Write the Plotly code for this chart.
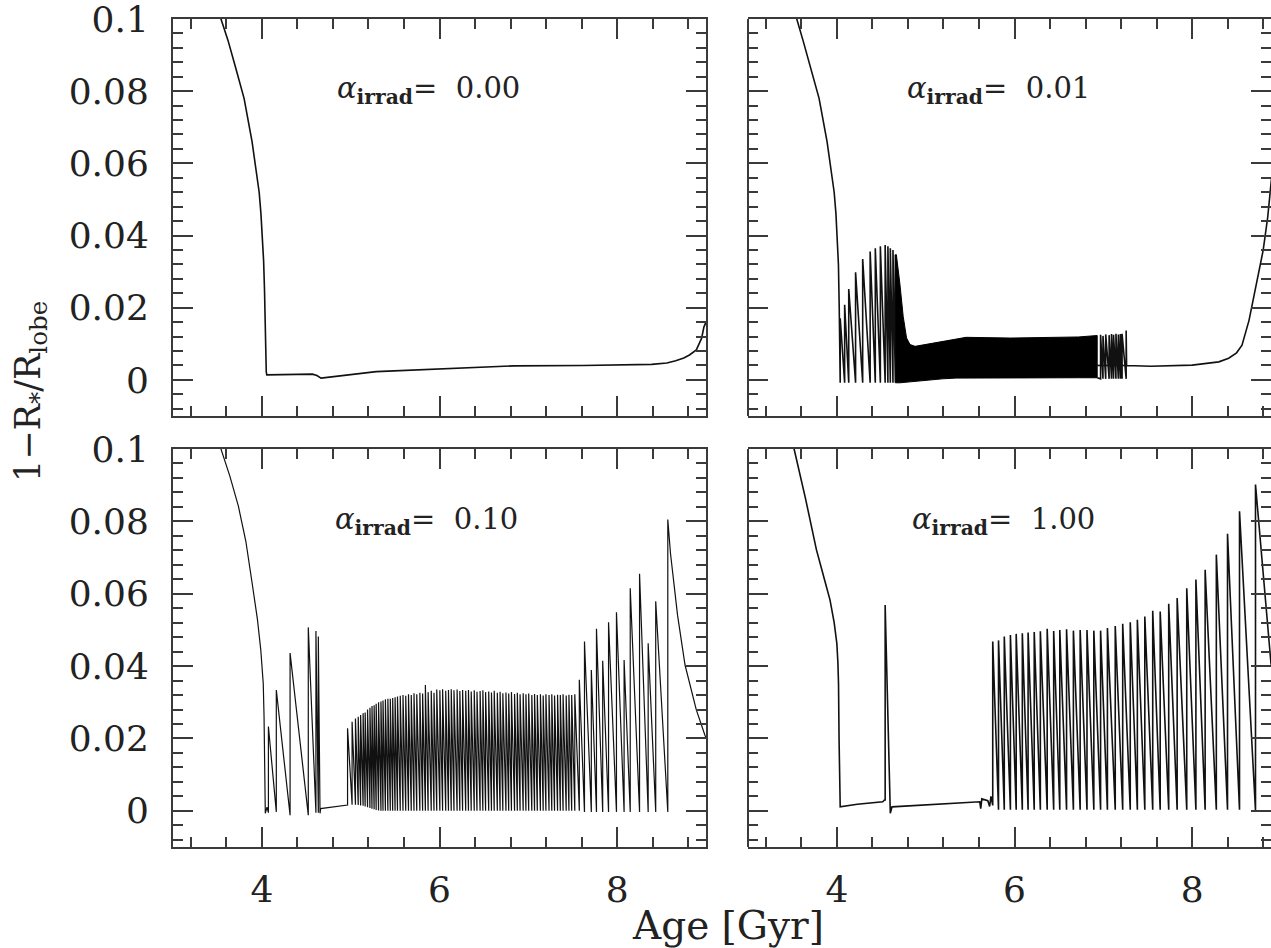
import plotly.graph_objects as go

# ---------------- data ----------------
# Panel 1: alpha_irrad = 0.00
p1_x = [3.50, 3.543, 3.620, 3.700, 3.800, 3.890, 3.940, 3.970, 3.990, 4.005, 4.020, 4.030,
        4.037, 4.043, 4.050, 4.056, 4.434, 4.570, 4.620, 4.667, 5.287, 6.062, 6.837,
        7.612, 8.388, 8.560, 8.659, 8.750, 8.814, 8.891, 8.950, 8.977, 9.0]
p1_y = [0.103, 0.0998, 0.0940, 0.0870, 0.0780, 0.0660, 0.0580, 0.0520, 0.0460, 0.0400, 0.0330, 0.0250,
        0.0150, 0.0060, 0.0022, 0.0014, 0.0016, 0.0016, 0.0012, 0.0005, 0.0023, 0.0032, 0.0039,
        0.0040, 0.0043, 0.0047, 0.0053, 0.0061, 0.0069, 0.0083, 0.0115, 0.0147, 0.016]

# Panel 2: alpha_irrad = 0.01
p2_pre_x = [3.50, 3.549, 3.620, 3.700, 3.800, 3.890, 3.940, 3.970, 3.990, 4.005, 4.018, 4.027]
p2_pre_y = [0.103, 0.100, 0.0940, 0.0870, 0.0780, 0.0660, 0.0580, 0.0520, 0.0460, 0.0400, 0.0320, 0.0200]
p2_spk_x = [4.038, 4.088, 4.134, 4.211, 4.291, 4.375, 4.433, 4.490, 4.544, 4.575, 4.602, 4.632, 4.659]
p2_spk_top = [0.0171, 0.0208, 0.0252, 0.0298, 0.0335, 0.0356, 0.0365, 0.0370, 0.0374, 0.0370, 0.0365, 0.0360, 0.0347]
p2_spk_base = [-0.0008, -0.0008, -0.0008, -0.0008, -0.0008, -0.0008, -0.0008, -0.0008, -0.0008, -0.0008, -0.0008, -0.0008, -0.0008]
p2_band_x = [4.659, 4.670, 4.709, 4.747, 4.785, 4.824, 4.881, 5.034, 5.188, 5.341, 5.456, 5.954, 6.720, 6.931]
p2_band_hi = [0.0347, 0.0347, 0.0268, 0.0176, 0.0116, 0.0098, 0.0093, 0.0100, 0.0107, 0.0112, 0.0118, 0.0116, 0.0119, 0.0123]
p2_band_lo = [-0.0008, -0.0008, -0.0008, -0.0007, -0.0006, -0.0005, -0.0004, -0.0001, 0.0003, 0.0005, 0.0006, 0.0006, 0.0006, 0.0006]
p2_sp2_x = [6.969, 6.996, 7.027, 7.065, 7.092, 7.115, 7.142, 7.169, 7.192, 7.211, 7.257]
p2_sp2_top = [0.0125, 0.0122, 0.0126, 0.0124, 0.0127, 0.0125, 0.0128, 0.0126, 0.0127, 0.0128, 0.0137]
p2_sp2_base = [0.0003, 0.0003, 0.0003, 0.0003, 0.0003, 0.0003, 0.0003, 0.0003, 0.0003, 0.0003, 0.0003]
p2_tail_x = [7.262, 7.533, 8.000, 8.300, 8.411, 8.500, 8.561, 8.640, 8.750, 8.800, 8.850, 8.890, 9.0]
p2_tail_y = [0.0040, 0.0038, 0.0041, 0.0050, 0.0060, 0.0075, 0.0096, 0.0165, 0.0300, 0.0360, 0.0450, 0.0550, 0.078]

# Panel 3: alpha_irrad = 0.10
p3_pre_x = [3.50, 3.543, 3.640, 3.736, 3.820, 3.891, 3.950, 3.988, 4.005, 4.016, 4.025, 4.031, 4.036, 4.039, 4.058]
p3_pre_y = [0.103, 0.0998, 0.0925, 0.0842, 0.0745, 0.0629, 0.0530, 0.0445, 0.0400, 0.0352, 0.0260, 0.0168, 0.0060, -0.0007, 0.0010]
p3_a_x = [4.074, 4.163, 4.318, 4.523, 4.609, 4.636]
p3_a_top = [0.0233, 0.0334, 0.0436, 0.0507, 0.0497, 0.0482]
p3_a_base = [-0.0005, -0.0003, -0.0012, -0.0012, -0.0005, -0.0005]
p3_gap_x = [4.655, 4.662, 4.965]
p3_gap_y = [-0.0007, 0.0006, 0.0016]
p3_b_x = [4.965, 5.016, 5.054, 5.085, 5.112, 5.140, 5.163, 5.190, 5.217, 5.240,
          5.264, 5.287, 5.314, 5.341, 5.364, 5.391, 5.419, 5.446, 5.473, 5.500,
          5.527, 5.558, 5.589, 5.620, 5.651, 5.682, 5.713, 5.744, 5.779, 5.810,
          5.841, 5.872, 5.907, 5.938, 5.969, 6.004, 6.035, 6.070, 6.101, 6.132,
          6.163, 6.198, 6.229, 6.260, 6.295, 6.326, 6.357, 6.391, 6.422, 6.457,
          6.488, 6.519, 6.554, 6.585, 6.616, 6.651, 6.682, 6.713, 6.748, 6.779,
          6.810, 6.845, 6.876, 6.907, 6.942, 6.973, 7.004, 7.039, 7.070, 7.101,
          7.136, 7.167, 7.198, 7.233, 7.264, 7.295, 7.329, 7.360, 7.391, 7.426,
          7.457, 7.488, 7.523]
p3_b_top = [0.0228, 0.0246, 0.0255, 0.0260, 0.0265, 0.0270, 0.0272, 0.0280, 0.0285, 0.0290,
            0.0292, 0.0296, 0.0300, 0.0302, 0.0305, 0.0308, 0.0310, 0.0310, 0.0312, 0.0314,
            0.0316, 0.0318, 0.0320, 0.0318, 0.0322, 0.0320, 0.0325, 0.0322, 0.0326, 0.0324,
            0.0348, 0.0328, 0.0332, 0.0326, 0.0335, 0.0333, 0.0336, 0.0332, 0.0334, 0.0336,
            0.0333, 0.0335, 0.0331, 0.0334, 0.0332, 0.0334, 0.0330, 0.0333, 0.0329, 0.0331,
            0.0333, 0.0328, 0.0330, 0.0327, 0.0332, 0.0326, 0.0329, 0.0325, 0.0327, 0.0324,
            0.0328, 0.0323, 0.0326, 0.0322, 0.0325, 0.0322, 0.0324, 0.0320, 0.0323, 0.0320,
            0.0322, 0.0319, 0.0322, 0.0320, 0.0322, 0.0319, 0.0321, 0.0320, 0.0322, 0.0319,
            0.0321, 0.0320, 0.0322]
p3_b_base = [0.0016, 0.0017, 0.0017, 0.0016, 0.0015, 0.0014, 0.0012, 0.0010, 0.0008, 0.0006,
             0.0004, 0.0002, 0.0001, 0.0, 0.0, 0.0, 0.0, 0.0, 0.0, 0.0,
             0.0, 0.0, 0.0, 0.0, 0.0, 0.0, 0.0, 0.0, 0.0, 0.0,
             0.0, 0.0, 0.0, 0.0, 0.0, 0.0, 0.0, 0.0, 0.0, 0.0,
             0.0, 0.0, 0.0, 0.0, 0.0, 0.0, 0.0, 0.0, 0.0, 0.0,
             0.0, 0.0, 0.0, 0.0, 0.0, 0.0, 0.0, 0.0, 0.0, 0.0,
             0.0, 0.0, 0.0, 0.0, 0.0, 0.0, 0.0, 0.0, 0.0, 0.0,
             0.0, 0.0, 0.0, 0.0, 0.0, 0.0, 0.0, 0.0, 0.0, 0.0,
             0.0, 0.0, 0.0]
p3_c_x = [7.574, 7.632, 7.709, 7.767, 7.837, 7.903, 7.992, 8.078, 8.147, 8.252, 8.349, 8.434, 8.570]
p3_c_top = [0.0362, 0.0468, 0.0389, 0.0503, 0.0415, 0.0521, 0.0549, 0.0417, 0.0615, 0.0655, 0.0463, 0.0579, 0.0805]
p3_c_base = [0.0, -0.0003, -0.0003, -0.0003, -0.0003, -0.0003, -0.0003, -0.0003, -0.0003, -0.0003, -0.0003, -0.0003, -0.0003]
p3_tail_x = [8.600, 8.680, 8.764, 8.891, 8.988, 9.0]
p3_tail_y = [0.0712, 0.0540, 0.0403, 0.0279, 0.0209, 0.0203]

# Panel 4: alpha_irrad = 1.00
p4_pre_x = [3.48, 3.521, 3.650, 3.770, 3.860, 3.923, 3.970, 4.000, 4.012, 4.019, 4.025, 4.031,
            4.038, 4.230, 4.517, 4.536]
p4_pre_y = [0.103, 0.0998, 0.0860, 0.0722, 0.0640, 0.0583, 0.0520, 0.0463, 0.0410, 0.0352, 0.0200, 0.0011,
            0.0011, 0.0018, 0.0025, 0.0030]
p4_a_x = [4.544]
p4_a_top = [0.0569]
p4_a_base = [0.0030]
p4_mid_x = [4.602, 4.621, 5.188, 5.609, 5.620, 5.632, 5.700, 5.720, 5.735]
p4_mid_y = [-0.0007, 0.0011, 0.0018, 0.0025, 0.0006, 0.0033, 0.0028, 0.0012, 0.0040]
p4_b_x = [5.755, 5.820, 5.885, 5.954, 6.019, 6.088, 6.153, 6.222, 6.291, 6.368,
          6.441, 6.510, 6.586, 6.663, 6.739, 6.816, 6.893, 6.969, 7.046, 7.134,
          7.218, 7.303, 7.383, 7.467, 7.556, 7.640, 7.736, 7.831, 7.939, 8.042,
          8.146, 8.272, 8.398, 8.533, 8.713]
p4_b_top = [0.0468, 0.0471, 0.0482, 0.0486, 0.0489, 0.0491, 0.0493, 0.0494, 0.0496, 0.0503,
            0.0497, 0.0500, 0.0502, 0.0498, 0.0500, 0.0500, 0.0498, 0.0498, 0.0505, 0.0511,
            0.0517, 0.0521, 0.0528, 0.0537, 0.0553, 0.0551, 0.0572, 0.0588, 0.0615, 0.0639,
            0.0666, 0.0708, 0.0766, 0.0828, 0.0902]
p4_b_base = [0.0015, 0.0003, 0.0003, 0.0003, 0.0003, 0.0003, 0.0003, 0.0003, 0.0003, 0.0003,
             0.0003, 0.0003, 0.0003, 0.0003, 0.0003, 0.0003, 0.0003, 0.0003, 0.0003, 0.0003,
             0.0003, 0.0003, 0.0003, 0.0003, 0.0003, 0.0003, 0.0003, 0.0003, 0.0003, 0.0003,
             0.0003, 0.0003, 0.0003, 0.0003, 0.0]
p4_tail_x = [8.887, 9.0]
p4_tail_y = [0.0408, 0.0270]

labels = ["0.00", "0.01", "0.10", "1.00"]

# ---------------- helpers ----------------
def saw(xs, tops, bases):
    X, Y = [], []
    for x, t, b in zip(xs, tops, bases):
        X += [x, x]
        Y += [b, t]
    return X, Y

def chain(*parts):
    X, Y = [], []
    for px, py in parts:
        X += list(px)
        Y += list(py)
    return X, Y

LINE = dict(color="#111111", width=1.6)
FRAME = "#3a3a3a"
FONT = "DejaVu Serif"

fig = go.Figure()

# panel 1
fig.add_trace(go.Scatter(x=p1_x, y=p1_y, mode="lines", line=LINE, xaxis="x", yaxis="y"))

# panel 2
X2, Y2 = chain((p2_pre_x, p2_pre_y), saw(p2_spk_x, p2_spk_top, p2_spk_base))
fig.add_trace(go.Scatter(x=X2, y=Y2, mode="lines", line=LINE, xaxis="x2", yaxis="y2"))
fig.add_trace(go.Scatter(x=p2_band_x + p2_band_x[::-1], y=p2_band_hi + p2_band_lo[::-1],
                         mode="lines", fill="toself", fillcolor="#000000",
                         line=dict(color="#000000", width=1), xaxis="x2", yaxis="y2"))
X2b, Y2b = chain(([p2_band_x[-1]], [p2_band_lo[-1]]),
                 saw(p2_sp2_x, p2_sp2_top, p2_sp2_base), (p2_tail_x, p2_tail_y))
fig.add_trace(go.Scatter(x=X2b, y=Y2b, mode="lines", line=LINE, xaxis="x2", yaxis="y2"))
fig.add_trace(go.Scatter(x=[p2_band_x[-1], p2_sp2_x[-1]], y=[0.0040, 0.0040], mode="lines",
                         line=LINE, xaxis="x2", yaxis="y2"))

# panel 3
X3, Y3 = chain((p3_pre_x, p3_pre_y), saw(p3_a_x, p3_a_top, p3_a_base), (p3_gap_x, p3_gap_y),
               saw(p3_b_x, p3_b_top, p3_b_base), saw(p3_c_x, p3_c_top, p3_c_base),
               (p3_tail_x, p3_tail_y))
fig.add_trace(go.Scatter(x=X3, y=Y3, mode="lines", line=dict(color="#111111", width=1.2),
                         xaxis="x3", yaxis="y3"))

# panel 4
X4, Y4 = chain((p4_pre_x, p4_pre_y), saw(p4_a_x, p4_a_top, p4_a_base), (p4_mid_x, p4_mid_y),
               saw(p4_b_x, p4_b_top, p4_b_base), (p4_tail_x, p4_tail_y))
fig.add_trace(go.Scatter(x=X4, y=Y4, mode="lines", line=LINE, xaxis="x4", yaxis="y4"))

# ---------------- layout ----------------
W, H = 1271, 948
ML, MR, MT, MB = 173, 0, 19, 101
pw, ph = W - ML - MR, H - MT - MB
left_dom = [0, (706 - ML) / pw]
right_dom = [(748 - ML) / pw, 1]
top_dom = [(H - MB - 416) / ph, 1]
bot_dom = [0, (H - MB - 449) / ph]
px_per_gyr = (706 - 173) / 6.0
right_end = 3 + (W - 748) / px_per_gyr

tickfont = dict(family=FONT, size=36, color="#222222")
minor_x = dict(ticks="inside", ticklen=10, tickwidth=2, tickcolor=FRAME, tick0=0, dtick=0.4)
minor_y = dict(ticks="inside", ticklen=10, tickwidth=2, tickcolor=FRAME, tick0=0, dtick=0.004)

def xax(dom, anchor, rng, labels_on):
    return dict(domain=dom, anchor=anchor, range=rng, tickmode="linear", tick0=0, dtick=2,
                ticks="inside", ticklen=20, tickwidth=2, tickcolor=FRAME,
                showline=True, linecolor=FRAME, linewidth=2, mirror="ticks",
                showgrid=False, zeroline=False, showticklabels=labels_on,
                tickfont=tickfont, ticklabelstandoff=10, ticklabeloverflow="allow",
                minor=minor_x, fixedrange=True)

def yax(dom, anchor, labels_on, line_on):
    return dict(domain=dom, anchor=anchor, range=[-0.01, 0.1000001], tickmode="linear", tick0=0,
                dtick=0.02, ticks="inside", ticklen=20, tickwidth=2, tickcolor=FRAME,
                showline=line_on, linecolor=FRAME, linewidth=2, mirror="ticks",
                showgrid=False, zeroline=False, showticklabels=labels_on,
                tickfont=tickfont, ticklabelstandoff=15, ticklabeloverflow="allow",
                minor=minor_y, fixedrange=True)

fig.update_layout(
    width=W, height=H, margin=dict(l=ML, r=MR, t=MT, b=MB),
    paper_bgcolor="white", plot_bgcolor="white", showlegend=False,
    xaxis=xax(left_dom, "y", [3, 9], False),
    yaxis=yax(top_dom, "x", True, True),
    xaxis2=xax(right_dom, "y2", [3, right_end], False),
    yaxis2=yax(top_dom, "x2", False, False),
    xaxis3=xax(left_dom, "y3", [3, 9], True),
    yaxis3=yax(bot_dom, "x3", True, True),
    xaxis4=xax(right_dom, "y4", [3, right_end], True),
    yaxis4=yax(bot_dom, "x4", False, False),
)

# left frame line of the right-hand panels (their right edge lies outside the picture)
for xr, yr in [("x2", "y2"), ("x4", "y4")]:
    fig.add_shape(type="line", xref=f"{xr} domain", yref=f"{yr} domain", x0=0, x1=0, y0=0, y1=1,
                  line=dict(color=FRAME, width=2))

ann_pos = [("x", "y", 0.304), ("x2", "y2", 0.300), ("x3", "y3", 0.300), ("x4", "y4", 0.310)]
for (xr, yr, xf), lab in zip(ann_pos, labels):
    fig.add_annotation(xref=f"{xr} domain", yref=f"{yr} domain", x=xf, y=0.82,
                       xanchor="left", yanchor="middle", showarrow=False,
                       text=f"<i>α</i><sub><b>irrad</b></sub>=&nbsp; {lab}",
                       font=dict(family=FONT, size=29, color="#222222"))

fig.add_annotation(xref="paper", yref="paper", x=(30 - ML) / pw, y=(H - MB - 392) / ph,
                   textangle=-90, showarrow=False, xanchor="center", yanchor="middle",
                   text="1−R<sub>*</sub>/R<sub>lobe</sub>",
                   font=dict(family=FONT, size=35, color="#222222"))
fig.add_annotation(xref="paper", yref="paper", x=(728 - ML) / pw, y=(H - MB - 925) / ph,
                   showarrow=False, xanchor="center", yanchor="middle",
                   text="Age [Gyr]", font=dict(family=FONT, size=39, color="#222222"))

fig.write_html("out.html", config={"displayModeBar": False})
